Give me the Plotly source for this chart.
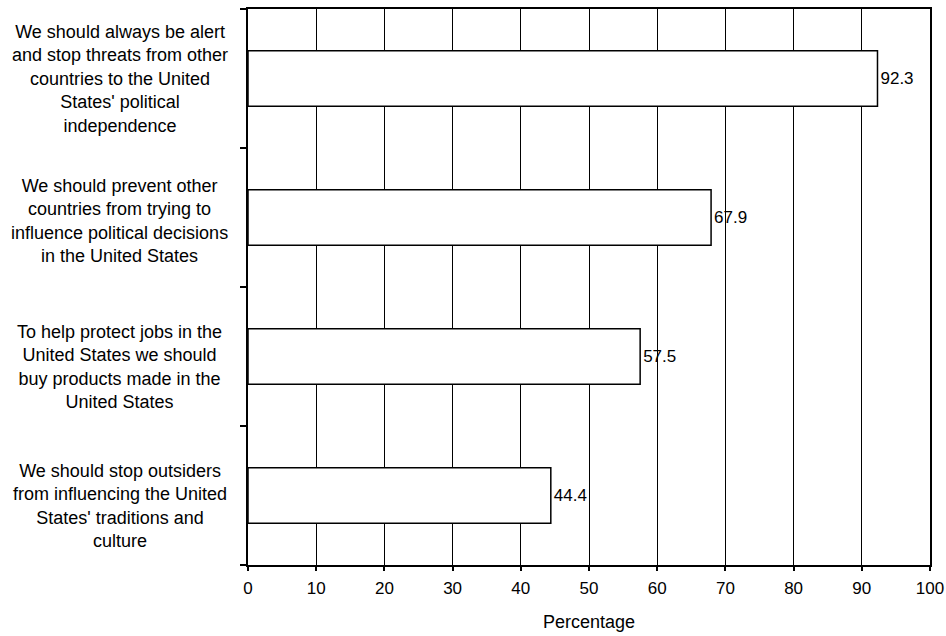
import plotly.graph_objects as go

categories = [
    "We should always be alert<br>and stop threats from other<br>countries to the United<br>States' political<br>independence",
    "We should prevent other<br>countries from trying to<br>influence political decisions<br>in the United States",
    "To help protect jobs in the<br>United States we should<br>buy products made in the<br>United States",
    "We should stop outsiders<br>from influencing the United<br>States' traditions and<br>culture",
]
values = [92.3, 67.9, 57.5, 44.4]
value_labels = ["92.3", "67.9", "57.5", "44.4"]
x_ticks = [0, 10, 20, 30, 40, 50, 60, 70, 80, 90, 100]

label_yshift = [0, -3, -10, -10]

n = len(categories)
ypos = [n - 1 - i for i in range(n)]

FONT = "Liberation Sans, Arial, Helvetica, sans-serif"

fig = go.Figure()
fig.add_trace(go.Bar(
    x=values, y=ypos, orientation="h",
    width=0.4,
    marker=dict(color="white", line=dict(color="black", width=1.5)),
    text=value_labels, textposition="outside",
    textfont=dict(family=FONT, size=17, color="black"),
    cliponaxis=False,
    hoverinfo="skip",
))

for cat, y, ys in zip(categories, ypos, label_yshift):
    fig.add_annotation(
        x=-0.1877, xref="paper", y=y, yref="y", yshift=ys,
        text=cat, showarrow=False, xanchor="center", yanchor="middle",
        align="center", font=dict(family=FONT, size=18, color="black"),
    )

fig.update_layout(
    width=946, height=636,
    margin=dict(l=248, r=16, t=9, b=71, autoexpand=False),
    plot_bgcolor="white", paper_bgcolor="white",
    showlegend=False,
    font=dict(family=FONT, size=17, color="black"),
    xaxis=dict(
        range=[0, 100], tickvals=x_ticks, ticktext=[str(t) for t in x_ticks],
        automargin=False,
        showgrid=True, gridcolor="black", gridwidth=1.3,
        showline=True, linecolor="black", linewidth=2, mirror=True,
        ticks="outside", ticklen=4, tickcolor="black", tickwidth=1.5,
        ticklabelstandoff=3,
        zeroline=False,
        title=dict(text="Percentage", font=dict(family=FONT, size=18, color="black"), standoff=18),
        tickfont=dict(family=FONT, size=17, color="black"),
    ),
    yaxis=dict(
        range=[-0.5, n - 0.5],
        tickvals=[i - 0.5 for i in range(n + 1)],
        ticktext=["" for _ in range(n + 1)],
        automargin=False,
        showgrid=False, zeroline=False,
        showline=True, linecolor="black", linewidth=2, mirror=True,
        ticks="outside", ticklen=6, tickcolor="black", tickwidth=2,
    ),
)

fig.write_html(
    "out.html",
    config={"displayModeBar": False},
    post_script="document.body.style.margin='0';document.body.style.overflow='hidden';",
)
